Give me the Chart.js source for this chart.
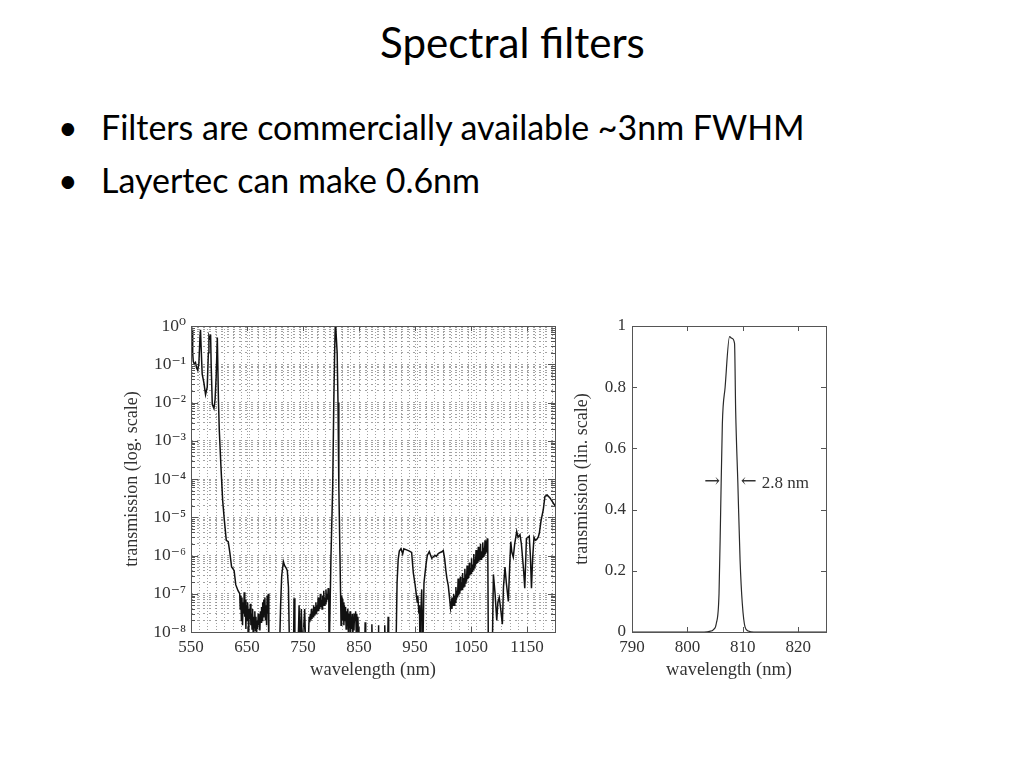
<!DOCTYPE html>
<html><head><meta charset="utf-8">
<script src="https://cdn.jsdelivr.net/npm/chart.js@4/dist/chart.umd.min.js"></script>
<style>
html,body{margin:0;padding:0;background:#fff;width:1024px;height:768px;overflow:hidden;}
.t{position:absolute;white-space:nowrap;font-family:Lato,'Open Sans',sans-serif;line-height:1;color:#000;}
canvas{position:absolute;}
</style></head><body>
<div id="title" class="t">Spectral filters</div>
<div id="b1dot" class="t">•</div><div id="b1" class="t">Filters are commercially available ~3nm FWHM</div>
<div id="b2dot" class="t">•</div><div id="b2" class="t">Layertec can make 0.6nm</div>
<canvas id="cl" width="470" height="400" style="left:100px;top:300px;width:470px;height:400px"></canvas>
<canvas id="cr" width="280" height="400" style="left:560px;top:300px;width:280px;height:400px"></canvas>
<script>
// ---------- DATA: left panel, transmission (log scale) vs wavelength (nm) ----------
const edge550 = [[550,0.6],[551,0.3],[552,0.8],[553,0.2],[554,0.12],[556,0.1],[558,0.11],[560,0.08],[562,0.07],[564,0.1],[566,0.5],[567,0.8],[568,0.3],[570,0.055],[573,0.033],[576,0.016],[579,0.025],[581,0.2],[582,0.55],[584,0.45],[585,0.6],[586,0.1],[588,0.009],[591,0.007],[593,0.012],[595,0.05],[597,0.5],[599,0.012],[600.5,1.9e-3],[603.5,2.1e-4],[606.5,2.8e-5],[609.5,8.5e-6],[613,2.5e-6],[616.5,2.3e-6],[619.5,1.15e-6],[622.5,5e-7],[625,4.5e-7],[627,4e-7],[630,1.7e-7],[634,1.2e-7],[637,1e-7]];
const noise640 = [[638,4e-8],[639,9e-8],[640,2e-8],[641,8e-8],[642,1.5e-8],[643,6e-8],[644,3e-8],[645,1.1e-7],[646,2.5e-8],[647,7e-8],[648,1.2e-8],[649,5e-8],[650,2e-8],[651,6e-8],[652,3.5e-8],[653,8e-9],[654,4e-8],[655,2.2e-8],[656,5.5e-8],[657,1.5e-8],[658,3e-8],[659,1.2e-8],[660,4e-8],[661,1e-8],[662,2.5e-8],[663,1.3e-8],[664,3.5e-8],[665,1.1e-8],[666,2.5e-8],[667,8e-9],[668,2e-8],[669,1.2e-8],[670,3e-8],[671,1.5e-8],[672,2.2e-8],[673,1.1e-8],[674,3.5e-8],[675,1.8e-8],[676,4.5e-8],[677,2e-8],[678,6e-8],[679,2.5e-8],[680,7e-8],[681,3e-8],[682,8e-8],[683,2e-8],[684,5e-8],[685,1.5e-8],[686,9e-8],[687,3e-8],[688,1e-7],[689,3e-9]];
const bump715 = [[708,3e-9],[710,5e-8],[712,3e-7],[715,6.9e-7],[717,5.5e-7],[720,4.7e-7],[722,4e-7],[724,1.5e-7],[726,3e-9]];
const spikes740 = [[733,3e-9],[734,7.6e-8],[735.5,3e-9],[741,3e-9],[743,5e-8],[745,3e-9],[747,4e-8],[749,3e-9],[753,4e-8],[755,3e-9],[759,3e-9]];
const noise780 = [[761,2.5e-8],[762,1.8e-8],[763,3e-8],[764,2e-8],[765,4e-8],[766,2.2e-8],[767,3.5e-8],[768,2.5e-8],[769,5e-8],[770,2.8e-8],[771,4.5e-8],[772,3e-8],[773,6e-8],[774,3e-8],[775,5e-8],[776,3.5e-8],[777,8e-8],[778,3.5e-8],[779,6e-8],[780,4e-8],[781,1e-7],[782,4.5e-8],[783,7e-8],[784,4e-8],[785,9e-8],[786,5e-8],[787,1.2e-7],[788,5e-8],[789,8e-8],[790,5.5e-8],[791,1.3e-7],[792,6e-8],[793,1e-7],[794,7e-8],[795,1.4e-7],[796,9e-8]];
const peak808 = [[796.5,3e-9],[797.5,1e-8],[800,1e-6],[803,6e-5],[805,0.01],[806.5,0.2],[807.5,0.9],[808.5,0.96],[809.5,0.5],[811,0.2],[812.5,0.01],[814,6e-5],[816,1e-6],[818,1.5e-8]];
const noise820 = [[819,8e-8],[820,7.4e-8],[821,2e-8],[822,6e-8],[823,1.5e-8],[824,5e-8],[825,2e-8],[826,4.5e-8],[827,1.2e-8],[828,3.5e-8],[829,1.5e-8],[830,4e-8],[831,1e-8],[832,3e-8],[833,1.3e-8],[834,3.5e-8],[835,1e-8],[836,2.5e-8],[837,1.2e-8],[838,3e-8],[839,8e-9],[840,2.5e-8],[841,1.1e-8],[842,3e-8],[843,2e-8],[844,3.5e-8],[845,1e-8],[846,3e-8],[847,1.2e-8],[848,2.5e-8],[849,8e-9],[850,3e-9]];
const spikes880 = [[860,3e-9],[861,1.8e-8],[862,3e-9],[872,3e-9],[873,1.6e-8],[874,3e-9],[884,3e-9],[884.5,1.5e-8],[885.5,3e-9],[895,3e-9],[896,1.5e-8],[897,3e-9],[901,3e-9],[902,2.5e-8],[903,3e-9],[916,3e-9]];
const band930 = [[918,2e-7],[920,8e-7],[922,1.3e-6],[925,1.5e-6],[928,1.1e-6],[930,1.5e-6],[935,1.4e-6],[940,1.3e-6],[944,1.2e-6],[947,3.5e-7],[950,1.8e-7],[952,1.05e-7],[954,6e-8],[955,9e-8],[957,3e-8],[958,5e-8],[959,3e-9],[960,2e-8],[962,1.3e-7],[963,1e-8],[964,3e-9]];
const band990 = [[966,1.9e-7],[968,3.5e-7],[970,6.3e-7],[972,1e-6],[975.5,1.26e-6],[978,1e-6],[980,8.5e-7],[983,9.3e-7],[986,1e-6],[988,9.5e-7],[991.5,1.12e-6],[995,1.2e-6],[998,1.25e-6],[1000.5,1.35e-6],[1003,8e-7],[1005,4.2e-7],[1007,2.5e-7],[1009.5,1.6e-7],[1012,7e-8],[1013.5,4.2e-8]];
const ramp1050 = [[1015,6e-8],[1016,4e-8],[1017,8e-8],[1018,5e-8],[1019,1e-7],[1020,5e-8],[1021,9e-8],[1022,6e-8],[1023,1.5e-7],[1024,7e-8],[1025,1.2e-7],[1026,8e-8],[1027,2.5e-7],[1028,9e-8],[1029,1.8e-7],[1030,1e-7],[1031,2.8e-7],[1032,1.2e-7],[1033,2e-7],[1034,1.3e-7],[1035,3.5e-7],[1036,1.5e-7],[1037,2.6e-7],[1038,1.6e-7],[1039,4.5e-7],[1040,1.9e-7],[1041,3.2e-7],[1042,2.1e-7],[1043,5.5e-7],[1044,2.4e-7],[1045,3.8e-7],[1046,2.6e-7],[1047,6.5e-7],[1048,3e-7],[1049,4.8e-7],[1050,3.4e-7],[1051,8.5e-7],[1052,3.9e-7],[1053,5.8e-7],[1054,4.4e-7],[1055,1.1e-6],[1056,4.8e-7],[1057,7.8e-7],[1058,5.4e-7],[1059,1.4e-6],[1060,6e-7],[1061,8.8e-7],[1062,6.4e-7],[1063,1.7e-6],[1064,7e-7],[1065,1.1e-6],[1066,7.5e-7],[1067,2e-6],[1068,8e-7],[1069,1.3e-6],[1070,9e-7],[1071,2.2e-6],[1072,9.5e-7],[1073,1.6e-6],[1074,1e-6],[1075,2.5e-6],[1076,1.1e-6],[1077,1.8e-6],[1078,1.2e-6],[1079,2.8e-6],[1080,1.3e-6],[1081,3e-9]];
const tail1150 = [[1088,3e-9],[1090,3.2e-7],[1093,1e-7],[1096,2e-8],[1098,6e-8],[1100.5,8e-8],[1103,4e-8],[1106,1.6e-8],[1108,1.5e-7],[1110.7,5e-7],[1113,2e-7],[1116.7,6.3e-8],[1119,5e-7],[1121,2.3e-6],[1123,1.2e-6],[1125.5,9e-7],[1128,2e-6],[1131.6,4.2e-6],[1134,3e-6],[1137.5,3.5e-6],[1140,2e-6],[1142,9e-7],[1144,4e-7],[1146,1.4e-7],[1148,1e-6],[1149,2.8e-6],[1152,3e-6],[1154,3.2e-6],[1156,1e-6],[1158,1.4e-7],[1160,8e-7],[1162.5,3e-6],[1165,2.5e-6],[1167,2.6e-6],[1170,3e-6],[1172,3.8e-6],[1175,8e-6],[1179,1.55e-5],[1182,3.5e-5],[1186,3.8e-5],[1191,3.2e-5],[1195,2.6e-5],[1200,2e-5]];

const xLabelsLog = [550, 650, 750, 850, 950, 1050, 1150];
const yLabelsLog = ['10\u2070','10\u207B\u00B9','10\u207B\u00B2','10\u207B\u00B3','10\u207B\u2074','10\u207B\u2075','10\u207B\u2076','10\u207B\u2077','10\u207B\u2078'];

// ---------- DATA: right panel, transmission (linear) vs wavelength (nm) ----------
const peakWl  = [790, 800, 803, 804, 804.7, 805.2, 805.7, 806, 806.3, 806.8, 807.6, 808, 808.5, 808.7, 809.1, 809.5, 809.9, 810.4, 811, 812, 825];
const peakT   = [0, 0, 0, 0.002, 0.008, 0.027, 0.125, 0.4, 0.68, 0.8, 0.965, 0.96, 0.943, 0.725, 0.485, 0.234, 0.093, 0.016, 0.003, 0, 0];
const xTicksLin = [790, 800, 810, 820];
const yLabelsLin = ['0', '0.2', '0.4', '0.6', '0.8', '1'];
const fwhmText = '2.8 nm';
const arrowRight = '\u2192', arrowLeft = '\u2190';
const fwhmLevel = 0.49, fwhmLeft = 806.1, fwhmRight = 809.1;

// ---------- slide text ----------
function place(id, left, baseline, width, size) {
  const el = document.getElementById(id);
  if (!size) {
    el.style.fontSize = '100px';
    const w = el.getBoundingClientRect().width;
    size = 100 * width / w;
  }
  el.style.fontSize = size + 'px';
  el.style.left = left + 'px';
  el.style.top = (baseline - 0.887 * size) + 'px';
  return size;
}
place('title', 380, 58, 265);
const bs = place('b1', 101, 140, 704);
place('b2', 101, 193, 0, bs);
place('b1dot', 58, 140, 0, bs);
place('b2dot', 58, 193, 0, bs);

// ---------- charts ----------
const SERIF = "'Liberation Serif', 'DejaVu Serif', serif";
const TXT = '#333';

const framePlugin = {
  id: 'frame',
  afterDatasetsDraw(chart, args, o) {
    const {ctx, chartArea: a, scales} = chart;
    ctx.save();
    ctx.setLineDash([]);
    ctx.strokeStyle = o.color; ctx.lineWidth = 1;
    ctx.strokeRect(Math.round(a.left) + 0.5, Math.round(a.top) + 0.5, Math.round(a.right - a.left), Math.round(a.bottom - a.top));
    ctx.beginPath();
    (o.xMarks || []).forEach(m => {
      const x = Math.round(scales.x.getPixelForValue(m.v)) + 0.5;
      ctx.moveTo(x, a.bottom); ctx.lineTo(x, a.bottom - m.len);
      ctx.moveTo(x, a.top); ctx.lineTo(x, a.top + m.len);
    });
    (o.yMarks || []).forEach(m => {
      const y = Math.round(scales.y.getPixelForValue(m.v)) + 0.5;
      ctx.moveTo(a.left, y); ctx.lineTo(a.left + m.len, y);
      ctx.moveTo(a.right, y); ctx.lineTo(a.right - m.len, y);
    });
    ctx.stroke();
    ctx.restore();
  }
};

const fwhmPlugin = {
  id: 'fwhm',
  afterDatasetsDraw(chart) {
    const {ctx, scales} = chart;
    const y = scales.y.getPixelForValue(fwhmLevel);
    const xl = scales.x.getPixelForValue(fwhmLeft) - 1;
    const xr = scales.x.getPixelForValue(fwhmRight) + 3;
    ctx.save();
    ctx.fillStyle = TXT;
    ctx.textBaseline = 'middle';
    ctx.font = "19px 'DejaVu Serif', serif";
    ctx.textAlign = 'right';
    ctx.fillText(arrowRight, xl, y);
    ctx.textAlign = 'left';
    ctx.fillText(arrowLeft, xr, y);
    const aw = ctx.measureText(arrowLeft).width;
    ctx.font = '17px ' + SERIF;
    ctx.fillText(fwhmText, xr + aw + 5, y + 1);
    ctx.restore();
  }
};

const spectrum = [...edge550, ...noise640, ...bump715, ...spikes740, ...noise780, ...peak808,
  ...noise820, ...spikes880, ...band930, ...band990, ...ramp1050, ...tail1150].map(p => ({x: p[0], y: p[1]}));

const logTicks = [];
for (let e = -8; e <= 0; e++) for (let m = 1; m <= 9; m++) { const v = Number(m + 'e' + e); if (v <= 1) logTicks.push(v); }
const gridX = [];
for (let v = 550; v <= 1200; v += 15) gridX.push(v);
const xTicksLog = Array.from(new Set([...gridX, ...xLabelsLog])).sort((a, b) => a - b);
function decade(v) { const l = Math.log10(v); const e = Math.round(l); return Math.abs(l - e) < 1e-6 ? e : null; }

new Chart(document.getElementById('cl'), {
  type: 'line',
  data: { datasets: [{ data: spectrum, borderColor: '#111', borderWidth: 1.5, pointRadius: 0, tension: 0, fill: false }] },
  options: {
    responsive: false, animation: false,
    layout: { padding: { top: 26, right: 15, left: 0, bottom: 0 } },
    plugins: { legend: { display: false }, tooltip: { enabled: false },
      frame: { color: '#555',
        xMarks: xLabelsLog.map(v => ({v, len: 5})),
        yMarks: logTicks.map(v => ({v, len: decade(v) !== null ? 7 : 4})) } },
    scales: {
      x: {
        type: 'linear', min: 550, max: 1200,
        afterBuildTicks: s => { s.ticks = xTicksLog.map(v => ({value: v})); },
        afterFit: s => { s.height = 68; },
        ticks: { autoSkip: false, maxRotation: 0, minRotation: 0, padding: 5, color: TXT, font: { family: SERIF, size: 17 },
          callback: v => xLabelsLog.includes(v) ? String(v) : '' },
        grid: { color: '#8a8a8a', lineWidth: 0.8, drawTicks: false },
        border: { display: false, dash: [1, 2] },
        title: { display: true, text: 'wavelength (nm)', color: TXT, font: { family: SERIF, size: 18.5 }, padding: { top: 0, bottom: 19 } }
      },
      y: {
        type: 'logarithmic', min: 1e-8, max: 1,
        afterBuildTicks: s => { s.ticks = logTicks.map(v => ({value: v})); },
        afterFit: s => { s.width = 91; },
        ticks: { autoSkip: false, padding: 5, color: TXT, font: { family: SERIF, size: 17.5 },
          callback: v => { const e = decade(v); return e === null ? '' : yLabelsLog[-e]; } },
        grid: { color: '#8a8a8a', lineWidth: 0.8, drawTicks: false },
        border: { display: false, dash: [2, 4] },
        title: { display: true, text: 'transmission (log. scale)', color: TXT, font: { family: SERIF, size: 18 }, padding: { top: 21, bottom: 0 } }
      }
    }
  },
  plugins: [framePlugin]
});

new Chart(document.getElementById('cr'), {
  type: 'line',
  data: { datasets: [{ data: peakWl.map((x, i) => ({x, y: peakT[i]})), borderColor: '#2a2a2a', borderWidth: 1.2, pointRadius: 0, cubicInterpolationMode: 'monotone', fill: false }] },
  options: {
    responsive: false, animation: false,
    layout: { padding: { top: 26, right: 14, left: 0, bottom: 0 } },
    plugins: { legend: { display: false }, tooltip: { enabled: false },
      frame: { color: '#555',
        xMarks: xTicksLin.slice(1).map(v => ({v, len: 5})),
        yMarks: [0.2, 0.4, 0.6, 0.8].map(v => ({v, len: 5})) } },
    scales: {
      x: {
        type: 'linear', min: 790, max: 825,
        afterBuildTicks: s => { s.ticks = xTicksLin.map(v => ({value: v})); },
        afterFit: s => { s.height = 68; },
        ticks: { autoSkip: false, maxRotation: 0, minRotation: 0, padding: 5, color: TXT, font: { family: SERIF, size: 17 },
          callback: v => String(v) },
        grid: { display: false, drawTicks: false },
        border: { display: false },
        title: { display: true, text: 'wavelength (nm)', color: TXT, font: { family: SERIF, size: 18.5 }, padding: { top: 0, bottom: 19 } }
      },
      y: {
        type: 'linear', min: 0, max: 1,
        afterBuildTicks: s => { s.ticks = yLabelsLin.map(t => ({value: Number(t)})); },
        afterFit: s => { s.width = 72; },
        ticks: { autoSkip: false, padding: 6, color: TXT, font: { family: SERIF, size: 17 },
          callback: (v, i) => yLabelsLin[i] },
        grid: { display: false, drawTicks: false },
        border: { display: false },
        title: { display: true, text: 'transmission (lin. scale)', color: TXT, font: { family: SERIF, size: 18 }, padding: { top: 11, bottom: 0 } }
      }
    }
  },
  plugins: [framePlugin, fwhmPlugin]
});
</script>
</body></html>
